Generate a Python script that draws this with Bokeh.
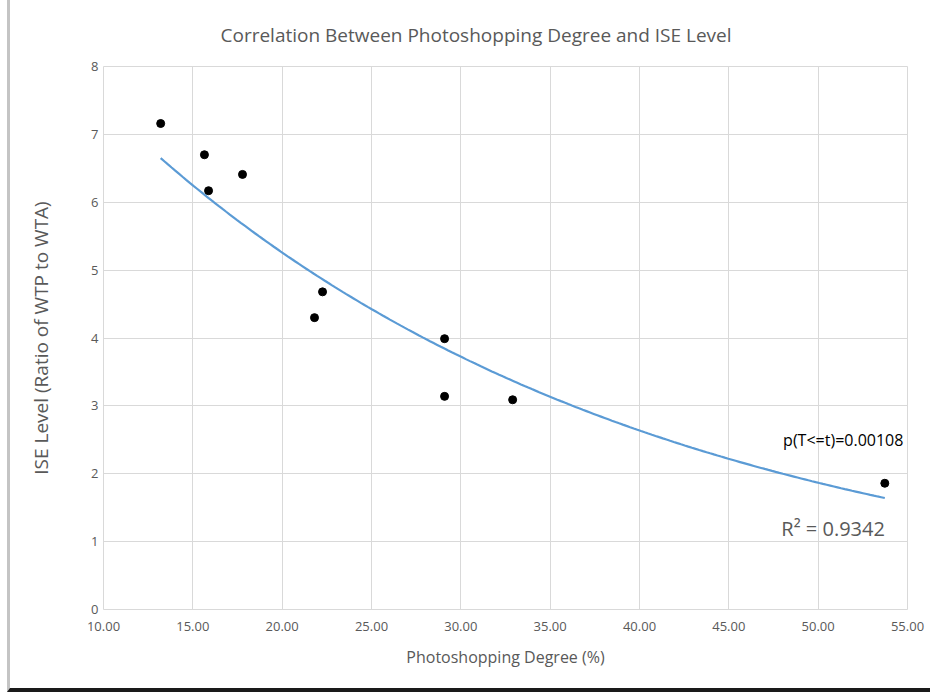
import numpy as np
from bokeh.plotting import figure
from bokeh.models import Range1d, FixedTicker, NumeralTickFormatter, Label
from bokeh.embed import file_html
from bokeh.resources import INLINE

# Data
photoshop_degree = [13.2, 15.65, 15.88, 17.78, 21.81, 22.26, 29.09, 29.09, 32.90, 53.73]
ise_level = [7.16, 6.70, 6.17, 6.41, 4.30, 4.68, 3.99, 3.14, 3.09, 1.86]
x_ticks = [10, 15, 20, 25, 30, 35, 40, 45, 50, 55]
y_ticks = [0, 1, 2, 3, 4, 5, 6, 7, 8]
title_text = "Correlation Between Photoshopping Degree and ISE Level"
p_text = "p(T<=t)=0.00108"
r2_text = "R\u00b2 = 0.9342"

# Exponential trendline (least squares on ln y, as a spreadsheet does)
xs = np.array(photoshop_degree)
ys = np.array(ise_level)
b, ln_a = np.polyfit(xs, np.log(ys), 1)
trend_x = np.linspace(xs.min(), xs.max(), 200)
trend_y = np.exp(ln_a) * np.exp(b * trend_x)

FONT = "Open Sans"
GRAY = "#595959"
GRID = "#d9d9d9"

p = figure(width=923, height=692, output_backend="svg", toolbar_location=None,
           x_range=Range1d(10, 55), y_range=Range1d(0, 8),
           min_border_left=93, min_border_right=26, min_border_top=66, min_border_bottom=83,
           background_fill_color="white", border_fill_color="white")
p.styles = {"margin-left": "7px", "border-left": "3px solid #c4c4c4",
            "border-bottom": "4px solid #1a1a1a"}

p.title.text = title_text
p.title.align = "left"
p.title.offset = 117
p.title.vertical_align = "top"
p.title.standoff = 34
p.title.text_font = FONT
p.title.text_font_size = "19px"
p.title.text_font_style = "normal"
p.title.text_color = GRAY

p.outline_line_color = GRID
p.xgrid.grid_line_color = GRID
p.ygrid.grid_line_color = GRID

p.xaxis.ticker = FixedTicker(ticks=x_ticks)
p.yaxis.ticker = FixedTicker(ticks=y_ticks)
p.xaxis.formatter = NumeralTickFormatter(format="0.00")
for ax in (p.xaxis, p.yaxis):
    ax.axis_line_color = None
    ax.major_tick_line_color = None
    ax.minor_tick_line_color = None
    ax.major_tick_out = 0
    ax.major_tick_in = 0
    ax.major_label_text_color = GRAY
    ax.major_label_text_font = FONT
    ax.major_label_text_font_size = "13px"
    ax.axis_label_text_color = GRAY
    ax.axis_label_text_font = FONT
    ax.axis_label_text_font_style = "normal"

p.xaxis.major_label_standoff = 12
p.yaxis.major_label_standoff = 5
p.xaxis.axis_label = "Photoshopping Degree (%)"
p.xaxis.axis_label_text_font_size = "16px"
p.xaxis.axis_label_standoff = 12
p.yaxis.axis_label = "ISE Level (Ratio of WTP to WTA)"
p.yaxis.axis_label_text_font_size = "19px"
p.yaxis.axis_label_standoff = 34

p.line(trend_x, trend_y, line_color="#5B9BD5", line_width=2.2)
p.scatter(photoshop_degree, ise_level, size=8, fill_color="black", line_color="black")

p.add_layout(Label(x=54.77, y=2.50, text=p_text, text_align="right", text_baseline="middle",
                   text_font=FONT, text_font_size="16px", text_color="black"))
p.add_layout(Label(x=47.94, y=1.20, text=r2_text, text_align="left", text_baseline="middle",
                   text_font=FONT, text_font_size="20px", text_color=GRAY))

open("out.html", "w").write(file_html(p, INLINE))
